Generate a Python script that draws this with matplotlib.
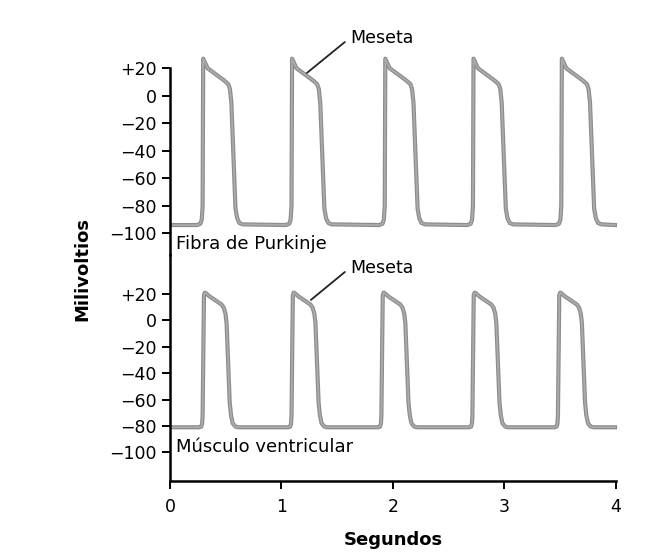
import matplotlib

matplotlib.use("Agg")

import matplotlib.pyplot as plt
import numpy as np

# beat onsets (s)
purk_onsets = [0.293, 1.091, 1.928, 2.720, 3.513]
ventr_onsets = [0.293, 1.091, 1.898, 2.715, 3.483]

# one action potential, time from onset (s) and voltage (mV)
purk_dt = [-0.05, -0.02, -0.008, 0.0, 0.005, 0.045, 0.195, 0.23, 0.245, 0.258,
           0.295, 0.31, 0.33, 0.36]
purk_mv = [-94, -93, -90, -80, 27, 20, 11, 8.5, 5, -5, -82, -89, -92.5, -93.5]
purk_rest = -94

ventr_dt = [-0.03, -0.012, -0.004, 0.0, 0.012, 0.02, 0.03, 0.065, 0.17, 0.19,
            0.205, 0.215, 0.243, 0.255, 0.27, 0.295, 0.32]
ventr_mv = [-81, -80.5, -78, -72, 19, 21, 20.5, 18, 12, 9.5, 5, -2, -62, -72, -78,
            -80.5, -81]
ventr_rest = -81

t_start, t_end = 0.027, 3.995

ytick_vals = [20, 0, -20, -40, -60, -80, -100]
ytick_labels = ["+20", "0", "\u221220", "\u221240", "\u221260", "\u221280", "\u2212100"]
xtick_vals = [0, 1, 2, 3, 4]


def build_trace(onsets, dt, mv, rest):
    t = [t_start]
    v = [rest]
    for t0 in onsets:
        t.extend(t0 + np.asarray(dt))
        v.extend(mv)
    t.append(t_end)
    v.append(rest)
    return np.asarray(t), np.asarray(v)


def draw_trace(ax, t, v):
    ax.plot(t, v, color="#8c8c8c", lw=3.0, solid_joinstyle="round", clip_on=False)
    ax.plot(t, v, color="#ababab", lw=1.3, solid_joinstyle="round", clip_on=False)


fig = plt.figure(figsize=(6.63, 5.52), dpi=100)
ax_top = fig.add_axes([0.2564, 0.538, 0.672, 0.3388])
ax_bot = fig.add_axes([0.2564, 0.1286, 0.672, 0.4094])

ax_top.set_ylim(-115.8, 20.2)
ax_bot.set_ylim(-121.7, 49.5)

for ax in (ax_top, ax_bot):
    ax.set_xlim(0, 4)
    ax.patch.set_visible(False)
    ax.spines["top"].set_visible(False)
    ax.spines["right"].set_visible(False)
    ax.spines["left"].set_linewidth(1.8)
    ax.set_yticks(ytick_vals)
    ax.set_yticklabels(ytick_labels)
    ax.tick_params(axis="y", direction="out", length=5.5, width=1.4, pad=4, labelsize=12.5)

ax_top.spines["bottom"].set_visible(False)
ax_top.set_xticks([])

ax_bot.spines["bottom"].set_linewidth(1.8)
ax_bot.set_xticks(xtick_vals)
ax_bot.tick_params(axis="x", direction="out", length=5.5, width=1.4, pad=7, labelsize=12.5)

t, v = build_trace(purk_onsets, purk_dt, purk_mv, purk_rest)
draw_trace(ax_top, t, v)
t, v = build_trace(ventr_onsets, ventr_dt, ventr_mv, ventr_rest)
draw_trace(ax_bot, t, v)

ax_top.text(0.054, -108, "Fibra de Purkinje", fontsize=13, va="center", ha="left")
ax_bot.text(0.054, -96, "M\u00fasculo ventricular", fontsize=13, va="center", ha="left")

arrow = dict(arrowstyle="-", color="#222222", lw=1.3, shrinkA=2, shrinkB=0, relpos=(0, 0.5))
ax_top.annotate("Meseta", xy=(1.229, 16.6), xytext=(1.614, 42), fontsize=12.5,
                va="center", ha="left", arrowprops=arrow, annotation_clip=False)
ax_bot.annotate("Meseta", xy=(1.265, 15.5), xytext=(1.614, 39.7), fontsize=12.5,
                va="center", ha="left", arrowprops=arrow, annotation_clip=False)

fig.text(82.7 / 663, 1 - 269 / 552, "Milivoltios", rotation=90, fontsize=13,
         fontweight="bold", ha="center", va="center")
fig.text(393.5 / 663, 1 - 540 / 552, "Segundos", fontsize=13,
         fontweight="bold", ha="center", va="center")

fig.savefig("out.png", dpi=100)
plt.close(fig)
